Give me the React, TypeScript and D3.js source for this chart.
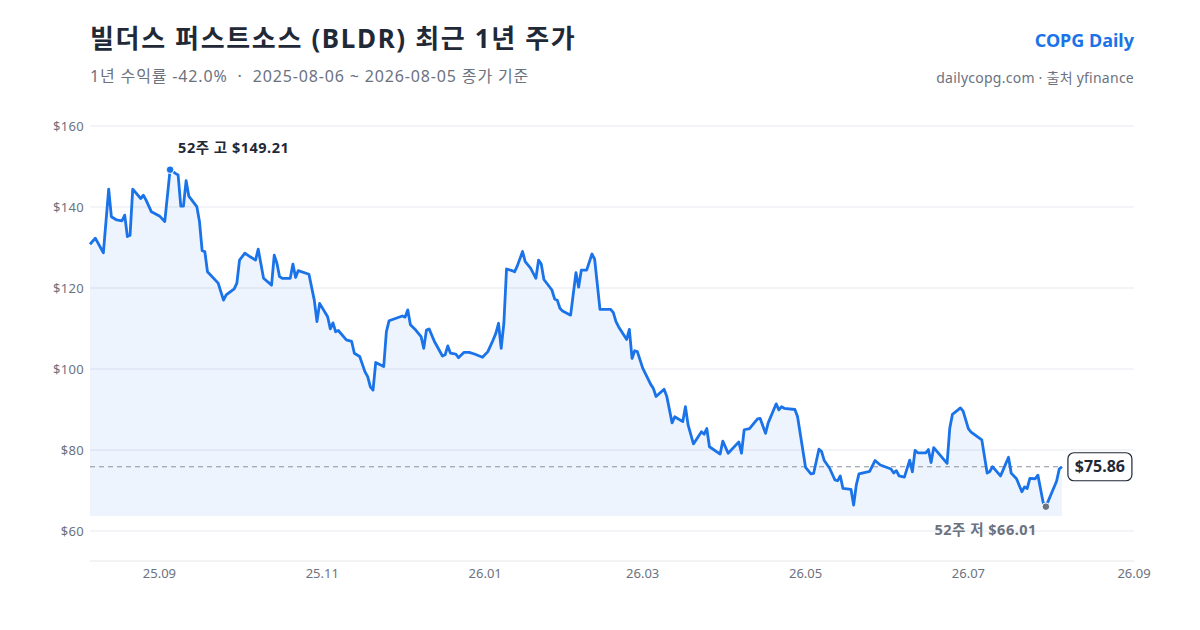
import React, { useEffect, useRef } from 'react';
import * as d3 from 'd3';

// closing prices
const dates = [
  '2025-08-06', '2025-08-08', '2025-08-11', '2025-08-13', '2025-08-14', '2025-08-16', '2025-08-18', '2025-08-19',
  '2025-08-20', '2025-08-21', '2025-08-22', '2025-08-25', '2025-08-26', '2025-08-27', '2025-08-29',
  '2025-09-01', '2025-09-03', '2025-09-05', '2025-09-07', '2025-09-08', '2025-09-09', '2025-09-10', '2025-09-11',
  '2025-09-12', '2025-09-15', '2025-09-16', '2025-09-17', '2025-09-18', '2025-09-19', '2025-09-23', '2025-09-25',
  '2025-09-26', '2025-09-29', '2025-09-30',
  '2025-10-01', '2025-10-03', '2025-10-05', '2025-10-07', '2025-10-08', '2025-10-10', '2025-10-13', '2025-10-14',
  '2025-10-15', '2025-10-16', '2025-10-17', '2025-10-20', '2025-10-21', '2025-10-22', '2025-10-23', '2025-10-27',
  '2025-10-29', '2025-10-30', '2025-10-31',
  '2025-11-03', '2025-11-04', '2025-11-05', '2025-11-06', '2025-11-07', '2025-11-10', '2025-11-12', '2025-11-13',
  '2025-11-15', '2025-11-17', '2025-11-18', '2025-11-19', '2025-11-20', '2025-11-21', '2025-11-24', '2025-11-25',
  '2025-11-26',
  '2025-12-01', '2025-12-02', '2025-12-03', '2025-12-04', '2025-12-06', '2025-12-08', '2025-12-09', '2025-12-10',
  '2025-12-11', '2025-12-13', '2025-12-16', '2025-12-17', '2025-12-18', '2025-12-19', '2025-12-21', '2025-12-22',
  '2025-12-24', '2025-12-26', '2025-12-28', '2025-12-31',
  '2026-01-02', '2026-01-04', '2026-01-05', '2026-01-06', '2026-01-07', '2026-01-08', '2026-01-09', '2026-01-11',
  '2026-01-12', '2026-01-13', '2026-01-15', '2026-01-16', '2026-01-18', '2026-01-20', '2026-01-21', '2026-01-22',
  '2026-01-23', '2026-01-26', '2026-01-27', '2026-01-28', '2026-01-29', '2026-01-30',
  '2026-02-02', '2026-02-04', '2026-02-05', '2026-02-06', '2026-02-08', '2026-02-10', '2026-02-11', '2026-02-13',
  '2026-02-17', '2026-02-18', '2026-02-19', '2026-02-20', '2026-02-23', '2026-02-24', '2026-02-25', '2026-02-26',
  '2026-02-27',
  '2026-03-01', '2026-03-04', '2026-03-05', '2026-03-06', '2026-03-09', '2026-03-10', '2026-03-12', '2026-03-13',
  '2026-03-16', '2026-03-17', '2026-03-18', '2026-03-20', '2026-03-23', '2026-03-24', '2026-03-25', '2026-03-26',
  '2026-03-30', '2026-03-31',
  '2026-04-02', '2026-04-06', '2026-04-07', '2026-04-08', '2026-04-10', '2026-04-13', '2026-04-14', '2026-04-16',
  '2026-04-17', '2026-04-20', '2026-04-21', '2026-04-22', '2026-04-23', '2026-04-27', '2026-04-28',
  '2026-05-01', '2026-05-03', '2026-05-04', '2026-05-06', '2026-05-07', '2026-05-08', '2026-05-10', '2026-05-12',
  '2026-05-13', '2026-05-14', '2026-05-15', '2026-05-18', '2026-05-19', '2026-05-20', '2026-05-21', '2026-05-25',
  '2026-05-27', '2026-05-29',
  '2026-06-02', '2026-06-03', '2026-06-04', '2026-06-05', '2026-06-07', '2026-06-09', '2026-06-10', '2026-06-11',
  '2026-06-12', '2026-06-15', '2026-06-16', '2026-06-17', '2026-06-18', '2026-06-23', '2026-06-24', '2026-06-25',
  '2026-06-28', '2026-06-29',
  '2026-07-01', '2026-07-02', '2026-07-06', '2026-07-08', '2026-07-09', '2026-07-10', '2026-07-13', '2026-07-14',
  '2026-07-16', '2026-07-17', '2026-07-19', '2026-07-21', '2026-07-22', '2026-07-23', '2026-07-24', '2026-07-26',
  '2026-07-27', '2026-07-29', '2026-07-30',
  '2026-08-03', '2026-08-04', '2026-08-05',
];

const closes = [
  130.8, 132.3, 128.7, 144.4, 137.6, 136.8, 136.6, 138.0,
  132.7, 133.0, 144.4, 142.1, 142.9, 141.7, 138.8,
  137.8, 136.4, 149.21, 148.3, 147.9, 140.2, 140.2, 146.5,
  142.7, 140.1, 136.4, 129.2, 129.0, 124.0, 121.2, 117.0,
  118.3, 119.8, 121.2,
  126.9, 128.6, 127.7, 126.9, 129.6, 122.4, 120.7, 128.1,
  126.1, 122.8, 122.4, 122.4, 125.9, 122.6, 124.3, 123.4,
  117.0, 111.7, 116.2,
  112.9, 109.9, 111.4, 109.2, 109.5, 107.2, 106.8, 103.9,
  103.1, 99.3, 98.1, 95.6, 94.8, 101.6, 100.6, 109.2,
  111.9,
  113.1, 112.8, 114.6, 110.9, 109.6, 108.0, 105.1, 109.6,
  109.9, 106.8, 103.2, 103.5, 105.7, 103.9, 103.7, 102.8,
  104.1, 104.1, 103.7, 102.9,
  104.3, 107.2, 108.8, 111.3, 105.1, 111.3, 124.7, 124.3,
  124.0, 125.4, 129.0, 126.5, 124.9, 122.4, 126.9, 125.9,
  122.1, 119.5, 117.3, 117.0, 115.0, 114.3,
  113.3, 123.8, 120.2, 124.4, 124.4, 128.4, 127.1, 114.7,
  114.7, 113.9, 111.7, 110.4, 107.3, 109.8, 102.6, 104.5,
  104.3,
  100.2, 96.2, 95.2, 93.2, 95.0, 93.3, 86.7, 88.2,
  87.0, 90.7, 86.2, 81.5, 84.5, 83.9, 85.3, 80.8,
  79.0, 82.2,
  79.2, 82.0, 79.2, 85.0, 85.3, 87.7, 87.8, 84.1,
  86.7, 91.4, 89.9, 90.7, 90.3, 90.0, 88.2,
  75.7, 74.1, 74.2, 80.2, 79.6, 77.4, 75.5, 72.6,
  72.4, 73.6, 70.5, 70.3, 66.4, 71.4, 74.1, 74.7,
  77.4, 76.3,
  75.3, 74.3, 74.9, 73.6, 73.3, 77.5, 74.6, 79.9,
  79.3, 79.3, 80.1, 76.9, 80.6, 76.7, 85.4, 88.8,
  90.4, 89.6,
  85.2, 84.4, 82.5, 74.3, 74.7, 75.9, 73.6, 75.1,
  78.2, 74.3, 72.9, 69.7, 70.9, 70.5, 73.0, 72.9,
  73.8, 67.0, 66.01,
  72.3, 75.3, 75.86,
];

const xDomain = ['2025-08-06', '2026-09-01'];
const xTicks = ['2025-09-01', '2025-11-01', '2026-01-01', '2026-03-01', '2026-05-01', '2026-07-01', '2026-09-01'];
const yTicks = [60, 80, 100, 120, 140, 160];

const title = '빌더스 퍼스트소스 (BLDR) 최근 1년 주가';
const subtitle = '1년 수익률 -42.0%  ·  2025-08-06 ~ 2026-08-05 종가 기준';
const brand = 'COPG Daily';
const source = 'dailycopg.com · 출처 yfinance';

const FONT = '"Noto Sans", "Noto Sans CJK KR", sans-serif';
const BLUE = '#1a73e8';

export default function App() {
  const svgRef = useRef<SVGSVGElement>(null);

  useEffect(() => {
    if (!svgRef.current) return;
    const svg = d3.select(svgRef.current);
    svg.selectAll('*').remove();

    const parse = d3.timeParse('%Y-%m-%d');
    const data = dates.map((d, i) => ({ date: parse(d)!, close: closes[i] }));

    const left = 90;
    const right = 1134;
    const bottom = 561;

    const x = d3.scaleTime().domain(xDomain.map((d) => parse(d)!)).range([left, right]);
    const y = d3.scaleLinear().domain([60, 160]).range([531, 126]);

    // header
    svg.append('text').attr('x', 90).attr('y', 48)
      .attr('font-size', 26).attr('font-weight', 700).attr('letter-spacing', 1.65)
      .attr('fill', '#1f2937').text(title);
    svg.append('text').attr('x', 90).attr('y', 82)
      .attr('font-size', 16).attr('letter-spacing', 0.85).attr('fill', '#6b7280')
      .style('white-space', 'pre').text(subtitle);
    svg.append('text').attr('x', right).attr('y', 47).attr('text-anchor', 'end')
      .attr('font-size', 18).attr('font-weight', 700).attr('fill', BLUE).text(brand);
    svg.append('text').attr('x', right).attr('y', 83).attr('text-anchor', 'end')
      .attr('font-size', 14).attr('letter-spacing', 0.25).attr('fill', '#6b7280').text(source);

    // grid + y labels
    const grid = svg.append('g');
    yTicks.forEach((t) => {
      grid.append('line').attr('x1', left).attr('x2', right).attr('y1', y(t)).attr('y2', y(t))
        .attr('stroke', '#e5e9f0').attr('stroke-width', 1);
      grid.append('text').attr('x', 84).attr('y', y(t)).attr('dy', '0.35em').attr('text-anchor', 'end')
        .attr('font-size', 13).attr('letter-spacing', 0.3).attr('fill', '#6b7280').text(`$${t}`);
    });

    // x axis
    svg.append('line').attr('x1', left).attr('x2', right).attr('y1', bottom).attr('y2', bottom)
      .attr('stroke', '#e5e7eb');
    const fmt = d3.timeFormat('%y.%m');
    xTicks.forEach((t) => {
      const d = parse(t)!;
      svg.append('text').attr('x', x(d)).attr('y', 578).attr('text-anchor', 'middle')
        .attr('font-size', 13).attr('fill', '#6b7280').text(fmt(d));
    });

    const minPt = data.reduce((a, b) => (b.close < a.close ? b : a));
    const maxPt = data.reduce((a, b) => (b.close > a.close ? b : a));
    const last = data[data.length - 1];

    // area
    const area = d3.area<{ date: Date; close: number }>()
      .x((d) => x(d.date)).y0(y(minPt.close * 0.965)).y1((d) => y(d.close));
    svg.append('path').datum(data).attr('d', area).attr('fill', BLUE).attr('fill-opacity', 0.08);

    // last price reference
    svg.append('line').attr('x1', left).attr('x2', x(last.date)).attr('y1', y(last.close)).attr('y2', y(last.close))
      .attr('stroke', '#8a919c').attr('stroke-width', 1).attr('stroke-dasharray', '5,4');

    // line
    const line = d3.line<{ date: Date; close: number }>().x((d) => x(d.date)).y((d) => y(d.close));
    svg.append('path').datum(data).attr('d', line).attr('fill', 'none')
      .attr('stroke', BLUE).attr('stroke-width', 2.8).attr('stroke-linejoin', 'round');

    // high
    svg.append('circle').attr('cx', x(maxPt.date)).attr('cy', y(maxPt.close)).attr('r', 3.8)
      .attr('fill', BLUE).attr('stroke', '#fff').attr('stroke-width', 1);
    svg.append('text').attr('x', x(maxPt.date) + 8).attr('y', y(maxPt.close) - 17)
      .attr('font-size', 14.5).attr('letter-spacing', 0.5).attr('font-weight', 700).attr('fill', '#1f2937')
      .text(`52주 고 $${maxPt.close.toFixed(2)}`);

    // low
    svg.append('circle').attr('cx', x(minPt.date)).attr('cy', y(minPt.close)).attr('r', 3.8)
      .attr('fill', '#6b7280').attr('stroke', '#fff').attr('stroke-width', 1);
    svg.append('text').attr('x', x(minPt.date) - 9).attr('y', y(minPt.close) + 28).attr('text-anchor', 'end')
      .attr('font-size', 14.5).attr('letter-spacing', 0.5).attr('font-weight', 700).attr('fill', '#6b7280')
      .text(`52주 저 $${minPt.close.toFixed(2)}`);

    // last price badge
    const bx = x(last.date) + 6;
    const by = y(last.close);
    svg.append('rect').attr('x', bx).attr('y', by - 14).attr('width', 64).attr('height', 28).attr('rx', 6)
      .attr('fill', '#fff').attr('stroke', '#1f2937').attr('stroke-width', 1.2);
    svg.append('text').attr('x', bx + 32).attr('y', by).attr('dy', '0.35em').attr('text-anchor', 'middle')
      .attr('font-size', 16).attr('font-weight', 700).attr('fill', '#1f2937')
      .text(`$${last.close.toFixed(2)}`);
  }, []);

  return (
    <svg
      ref={svgRef}
      width={1200}
      height={630}
      style={{ position: 'absolute', left: 0, top: 0, background: '#fff', fontFamily: FONT }}
    />
  );
}
